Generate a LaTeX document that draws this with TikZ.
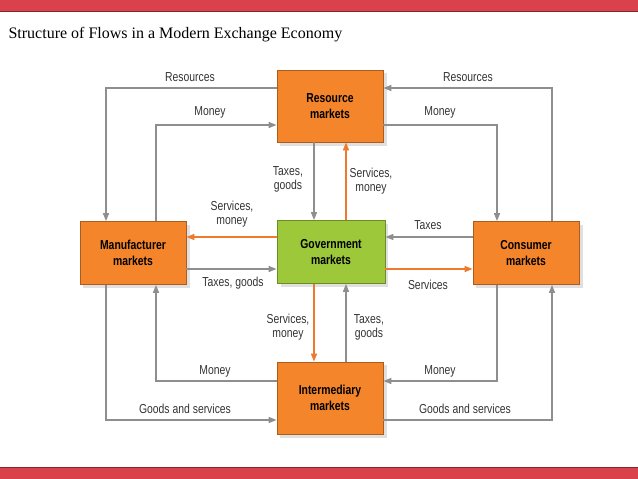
\documentclass[tikz,border=0pt]{standalone}
\usepackage{fontspec}
\setmainfont{Liberation Serif}
\newfontfamily\lab[FakeStretch=0.8]{Liberation Sans}
\usetikzlibrary{arrows.meta}
\definecolor{gr}{HTML}{8E8E8E}
\definecolor{orn}{HTML}{EE7A2E}
\definecolor{boxo}{HTML}{F5852B}
\definecolor{boxg}{HTML}{9CC83A}
\definecolor{redbar}{HTML}{D9424A}
\begin{document}
\begin{tikzpicture}[x=1pt,y=-1pt,
 mk/.style={draw=#1!70!black,line width=0.8pt,minimum width=106pt,minimum height=63pt,align=center,font=\lab\bfseries\fontsize{13}{16}\selectfont,fill=#1},
 ga/.style={draw=gr,line width=1.5pt,-{Triangle[length=8pt,width=6pt]}},
 oa/.style={draw=orn,line width=1.5pt,-{Triangle[length=8pt,width=6pt]}},
 lb/.style={font=\lab\fontsize{13}{14}\selectfont,align=center,text=black!80}]
\useasboundingbox (0,0) rectangle (638,479);
\fill[redbar] (0,0) rectangle (638,11);
\draw[redbar!60!black,line width=1pt] (0,11.5)--(638,11.5);
\fill[redbar] (0,468) rectangle (638,479);
\draw[redbar!60!black,line width=1pt] (0,467.5)--(638,467.5);
\node[anchor=west,font=\fontsize{16}{18}\selectfont] (title) at (5,35) {Structure of Flows in a Modern Exchange Economy};
\foreach \n/\x/\y in {res/330/106,int/330/398} \fill[black!12] (\x-50,\y-33) rectangle (\x+57,\y+40);
\foreach \n/\x/\y in {man/133/253,gov/331/252,con/526/253} \fill[black!12] (\x-50,\y-28) rectangle (\x+57,\y+35);
\node[mk=boxo,minimum height=72pt] (res) at (330,106) {Resource\\markets};
\node[mk=boxo,minimum height=72pt] (int) at (330,398) {Intermediary\\markets};
\node[mk=boxo] (man) at (133,253) {Manufacturer\\markets};
\node[mk=boxg,minimum width=108pt] (gov) at (331,252) {Government\\markets};
\node[mk=boxo] (con) at (526,253) {Consumer\\markets};
% top
\draw[ga] (res.west|-0,88) -| (man.north-|106,0);
\draw[ga] (man.north-|156,0) |- (res.west|-0,125);
\draw[ga] (con.north-|552,0) |- (res.east|-0,88);
\draw[ga] (res.east|-0,125) -| (con.north-|497,0);
% bottom
\draw[ga] (int.west|-0,381) -| (man.south-|156,0);
\draw[ga] (man.south-|106,0) |- (int.west|-0,420);
\draw[ga] (con.south-|497,0) |- (int.east|-0,381);
\draw[ga] (int.east|-0,420) -| (con.south-|552,0);
% centre
\draw[ga] (res.south-|314,0) -- (gov.north-|314,0);
\draw[oa] (gov.north-|346,0) -- (res.south-|346,0);
\draw[oa] (gov.west|-0,237) -- (man.east|-0,237);
\draw[ga] (man.east|-0,269) -- (gov.west|-0,269);
\draw[ga] (con.west|-0,237) -- (gov.east|-0,237);
\draw[oa] (gov.east|-0,269) -- (con.west|-0,269);
\draw[oa] (gov.south-|314,0) -- (int.north-|314,0);
\draw[ga] (int.north-|346,0) -- (gov.south-|346,0);
% labels
\node[lb] (l1) at (190,77) {Resources};
\node[lb] (l2) at (210,112) {Money};
\node[lb] (l3) at (468,77) {Resources};
\node[lb] (l4) at (440,112) {Money};
\node[lb] (l5) at (288,179) {Taxes,\\goods};
\node[lb] (l6) at (371,181) {Services,\\money};
\node[lb] (l7) at (232,214) {Services,\\money};
\node[lb] (l8) at (233,283) {Taxes, goods};
\node[lb] (l9) at (428,225) {Taxes};
\node[lb] (l10) at (428,285) {Services};
\node[lb] (l11) at (288,327) {Services,\\money};
\node[lb] (l12) at (369,327) {Taxes,\\goods};
\node[lb] (l13) at (215,371) {Money};
\node[lb] (l14) at (185,409) {Goods and services};
\node[lb] (l15) at (440,371) {Money};
\node[lb] (l16) at (465,409) {Goods and services};
\end{tikzpicture}
\end{document}
